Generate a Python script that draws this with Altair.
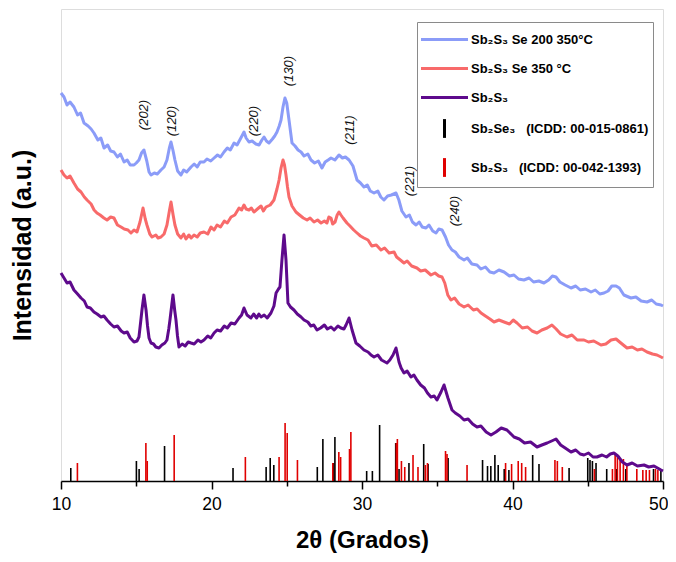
import altair as alt
import pandas as pd

FONT = "Liberation Sans"

# ---- XRD patterns (2theta in degrees, intensity in a.u.) ----
blue_x = [10.00, 10.20, 10.40, 10.60, 10.86, 11.10, 11.30, 11.53, 11.80, 12.00, 12.19, 12.45, 12.65, 12.86,
          13.10, 13.30, 13.52, 13.75, 13.95, 14.19, 14.40, 14.60, 14.85, 15.00, 15.18, 15.35, 15.51, 15.70,
          15.85, 15.98, 16.20, 16.40, 16.64, 16.85, 17.04, 17.20, 17.31, 17.45, 17.57, 17.75, 17.97, 18.15,
          18.35, 18.64, 18.85, 19.05, 19.25, 19.50, 19.70, 19.95, 20.17, 20.40, 20.60, 20.83, 21.05, 21.25,
          21.50, 21.70, 21.95, 22.16, 22.30, 22.49, 22.70, 22.95, 23.16, 23.35, 23.49, 23.65, 23.82, 24.05,
          24.20, 24.35, 24.50, 24.62, 24.75, 24.88, 25.00, 25.15, 25.35, 25.55, 25.75, 25.95, 26.15, 26.40,
          26.61, 26.85, 27.10, 27.34, 27.55, 27.75, 27.94, 28.20, 28.47, 28.70, 28.90, 29.14, 29.40, 29.67,
          29.90, 30.13, 30.35, 30.55, 30.80, 31.05, 31.25, 31.46, 31.70, 31.95, 32.26, 32.45, 32.65, 32.92,
          33.15, 33.35, 33.59, 33.80, 34.00, 34.25, 34.45, 34.70, 34.92, 35.10, 35.32, 35.55, 35.75, 35.98,
          36.20, 36.45, 36.78, 37.00, 37.30, 37.64, 37.90, 38.20, 38.50, 38.77, 39.10, 39.44, 39.80, 40.10,
          40.40, 40.76, 41.10, 41.40, 41.75, 42.09, 42.40, 42.65, 42.89, 43.15, 43.50, 43.89, 44.20, 44.50,
          44.85, 45.22, 45.50, 45.80, 46.08, 46.35, 46.60, 46.88, 47.10, 47.40, 47.87, 48.20, 48.55, 48.94,
          49.25, 49.55, 49.87, 50.00]
blue_y = [388, 384, 376, 379, 374, 366, 368, 358, 355, 352, 348, 341, 343, 333,
          336, 330, 329, 324, 327, 319, 321, 316, 316, 318, 321, 328, 331, 320,
          309, 306, 308, 307, 311, 314, 321, 333, 339, 330, 321, 310, 306, 311,
          309, 314, 317, 314, 319, 319, 322, 320, 323, 326, 324, 329, 333, 331,
          338, 336, 343, 349, 343, 339, 340, 337, 336, 341, 344, 340, 338, 342,
          345, 349, 355, 361, 374, 383, 378, 361, 338, 335, 331, 329, 325, 327,
          321, 318, 320, 313, 319, 321, 323, 321, 326, 323, 324, 321, 315, 301,
          298, 294, 296, 290, 288, 290, 284, 281, 285, 286, 288, 281, 270, 264,
          266, 259, 256, 259, 254, 253, 256, 250, 248, 252, 251, 244, 236, 231,
          229, 224, 221, 223, 217, 216, 212, 214, 209, 208, 211, 209, 205, 206,
          202, 201, 203, 199, 200, 198, 201, 205, 204, 199, 196, 193, 195, 191,
          192, 189, 191, 187, 188, 190, 195, 195, 193, 186, 183, 184, 180, 179,
          181, 177, 176, 175]

red_x = [10.00, 10.20, 10.40, 10.60, 10.86, 11.10, 11.33, 11.55, 11.73, 12.00, 12.20, 12.39, 12.60, 12.85,
         13.06, 13.30, 13.52, 13.75, 13.99, 14.20, 14.45, 14.65, 14.85, 15.05, 15.25, 15.45, 15.60, 15.71,
         15.90, 16.05, 16.30, 16.45, 16.64, 16.85, 17.04, 17.20, 17.31, 17.45, 17.57, 17.75, 17.97, 18.15,
         18.30, 18.50, 18.65, 18.84, 19.05, 19.25, 19.50, 19.75, 19.97, 20.17, 20.37, 20.60, 20.85, 21.05,
         21.30, 21.55, 21.83, 22.00, 22.16, 22.30, 22.49, 22.65, 22.82, 23.05, 23.29, 23.45, 23.62, 23.90,
         24.15, 24.35, 24.49, 24.62, 24.75, 24.85, 24.95, 25.05, 25.15, 25.35, 25.61, 25.85, 26.10, 26.35,
         26.55, 26.81, 27.05, 27.28, 27.50, 27.67, 27.80, 27.94, 28.05, 28.21, 28.35, 28.47, 28.60, 28.74,
         29.00, 29.20, 29.45, 29.67, 29.90, 30.13, 30.40, 30.65, 30.95, 31.26, 31.50, 31.80, 32.13, 32.30,
         32.55, 32.79, 33.00, 33.30, 33.65, 33.90, 34.20, 34.58, 34.85, 35.10, 35.32, 35.50, 35.70, 35.91,
         36.15, 36.45, 36.78, 37.05, 37.40, 37.65, 37.91, 38.20, 38.50, 38.77, 39.10, 39.44, 39.80, 40.05,
         40.30, 40.65, 41.00, 41.30, 41.63, 41.95, 42.30, 42.62, 42.90, 43.20, 43.62, 43.95, 44.30, 44.75,
         45.05, 45.40, 45.88, 46.20, 46.55, 46.88, 47.20, 47.61, 47.95, 48.30, 48.60, 48.94, 49.30, 49.60,
         49.87, 50.00]
red_y = [311, 306, 303, 305, 298, 292, 289, 284, 281, 277, 271, 268, 266, 263,
         261, 264, 263, 256, 254, 252, 251, 248, 251, 249, 259, 273, 262, 256,
         247, 244, 246, 243, 244, 247, 256, 270, 279, 266, 256, 247, 243, 247,
         242, 246, 243, 246, 244, 248, 249, 247, 254, 251, 256, 254, 260, 258,
         264, 266, 273, 271, 276, 272, 271, 273, 269, 272, 275, 270, 274, 276,
         281, 292, 301, 313, 321, 316, 306, 294, 284, 275, 269, 266, 263, 261,
         263, 259, 261, 258, 260, 258, 264, 263, 257, 259, 266, 269, 266, 263,
         258, 255, 251, 248, 245, 243, 241, 235, 236, 231, 233, 228, 229, 224,
         221, 218, 220, 215, 213, 210, 211, 206, 208, 205, 204, 198, 186, 181,
         183, 177, 174, 176, 171, 172, 168, 165, 162, 159, 161, 159, 157, 161,
         158, 153, 154, 150, 148, 151, 153, 156, 152, 147, 144, 146, 141, 141,
         139, 140, 136, 137, 141, 142, 138, 133, 134, 131, 132, 129, 127, 126,
         124, 123]

pur_x = [10.00, 10.20, 10.40, 10.60, 10.86, 11.10, 11.33, 11.55, 11.73, 11.95, 12.19, 12.40, 12.66, 12.85,
         13.06, 13.30, 13.52, 13.75, 14.00, 14.19, 14.40, 14.60, 14.85, 15.05, 15.18, 15.30, 15.38, 15.51,
         15.65, 15.75, 15.85, 15.98, 16.15, 16.30, 16.51, 16.70, 16.90, 17.04, 17.16, 17.24, 17.44, 17.56,
         17.64, 17.74, 17.84, 18.05, 18.25, 18.45, 18.64, 18.85, 19.10, 19.30, 19.50, 19.75, 19.95, 20.17,
         20.37, 20.60, 20.85, 21.05, 21.30, 21.55, 21.83, 22.00, 22.16, 22.36, 22.62, 22.80, 23.00, 23.15,
         23.29, 23.50, 23.70, 23.95, 24.15, 24.29, 24.45, 24.55, 24.68, 24.82, 24.95, 25.08, 25.25, 25.48,
         25.70, 25.95, 26.15, 26.40, 26.60, 26.80, 27.01, 27.25, 27.50, 27.70, 27.94, 28.15, 28.40, 28.60,
         28.80, 28.94, 29.14, 29.34, 29.60, 29.85, 30.13, 30.40, 30.60, 30.80, 31.05, 31.30, 31.66, 31.85,
         32.06, 32.26, 32.46, 32.60, 32.79, 33.00, 33.25, 33.45, 33.65, 33.90, 34.15, 34.35, 34.58, 34.80,
         34.98, 35.25, 35.45, 35.71, 35.98, 36.20, 36.50, 36.78, 37.05, 37.35, 37.64, 37.90, 38.25, 38.57,
         38.90, 39.25, 39.63, 39.90, 40.10, 40.45, 40.80, 41.20, 41.63, 41.95, 42.30, 42.60, 42.89, 43.20,
         43.50, 43.89, 44.20, 44.50, 44.75, 45.05, 45.35, 45.61, 45.95, 46.25, 46.50, 46.74, 47.00, 47.30,
         47.61, 47.95, 48.30, 48.74, 49.05, 49.40, 49.87, 50.00]
pur_y = [208, 203, 198, 199, 191, 187, 183, 180, 174, 173, 169, 167, 164, 165,
         161, 157, 154, 155, 150, 148, 149, 143, 139, 140, 144, 160, 171, 186,
         171, 155, 143, 138, 137, 134, 133, 136, 138, 141, 152, 161, 186, 170,
         161, 145, 134, 137, 135, 139, 138, 137, 141, 139, 141, 145, 143, 148,
         151, 150, 155, 153, 158, 157, 163, 166, 173, 166, 163, 167, 163, 167,
         164, 166, 163, 168, 175, 188, 192, 194, 221, 246, 221, 178, 174, 171,
         167, 164, 161, 159, 155, 156, 151, 153, 156, 152, 154, 151, 155, 153,
         152, 156, 163, 151, 138, 135, 131, 129, 126, 124, 126, 121, 118, 121,
         126, 133, 119, 113, 108, 110, 104, 106, 101, 96, 93, 88, 84, 85,
         81, 89, 96, 83, 71, 68, 65, 61, 62, 57, 54, 55, 49, 46,
         49, 53, 51, 47, 44, 42, 38, 39, 34, 36, 38, 40, 42, 36,
         33, 29, 31, 27, 26, 28, 24, 24, 26, 24, 27, 28, 25, 19,
         16, 18, 15, 16, 14, 15, 11, 10]

# ---- reference patterns (stick positions and heights) ----
se_pos = [10.65, 15.01, 15.19, 16.88, 21.43, 23.63, 23.90, 24.14, 27.03, 27.40, 28.11, 28.20, 30.31, 30.69,
          31.17, 32.24, 32.46, 33.12, 34.10, 34.39, 35.72, 38.01, 38.34, 38.56, 38.83, 39.05, 39.45, 39.76,
          41.34, 41.76, 43.76, 45.00, 45.15, 45.31, 45.55, 46.26, 46.93, 47.53, 49.37, 49.86]
se_h = [13, 20, 12, 35, 13, 14, 23, 16, 14, 42, 18, 44, 10, 10,
        56, 38, 12, 18, 37, 17, 23, 21, 15, 15, 26, 16, 12, 11,
        26, 17, 13, 23, 21, 20, 18, 12, 12, 12, 12, 10]

s_pos = [11.09, 15.64, 15.73, 17.52, 22.25, 24.49, 24.89, 25.03, 25.71, 28.06, 28.46, 28.58, 29.17, 29.26,
         32.28, 32.35, 32.62, 32.84, 33.39, 33.72, 34.21, 34.35, 35.55, 35.65, 36.98, 39.54, 39.94, 40.38,
         40.61, 40.87, 42.82, 42.98, 43.31, 45.44, 46.64, 46.82, 46.97, 47.15, 47.37, 47.60, 48.26, 48.66,
         48.88, 49.10, 49.50, 49.66]
s_h = [18, 38, 20, 46, 24, 24, 58, 48, 21, 18, 29, 24, 32, 49,
       38, 42, 20, 14, 26, 14, 16, 18, 30, 27, 16, 18, 17, 20,
       18, 14, 21, 20, 14, 12, 12, 28, 26, 22, 22, 17, 12, 11,
       11, 11, 12, 11]

# ---- peak (hkl) labels ----
hkl_text = ["(202)", "(120)", "(220)", "(130)", "(211)", "(221)", "(240)"]
hkl_x = [15.53, 17.39, 22.85, 25.18, 29.17, 33.17, 36.16]
hkl_y = [366, 360, 360, 410, 351, 300, 270]

series = ["Sb\u2082S\u2083 Se 200 350\u00b0C",
          "Sb\u2082S\u2083 Se 350 \u00b0C",
          "Sb\u2082S\u2083",
          "Sb\u2082Se\u2083\u00a0\u00a0\u00a0(ICDD: 00-015-0861)",
          "Sb\u2082S\u2083\u00a0\u00a0\u00a0(ICDD: 00-042-1393)"]
colors = ["#8b9cf8", "#f86a6a", "#5e0a8c", "#000000", "#e00000"]
shapes = ["M-2,0H2", "M-2,0H2", "M-2,0H2", "M0,-0.8V0.8", "M0,-0.8V0.8"]
widths = [3, 3, 3, 1.6, 1.6]

x_scale = alt.Scale(domain=[10, 50], nice=False)
y_scale = alt.Scale(domain=[0, 472], nice=False)

is_last = "datum.value === 50"
x_enc = alt.X("theta:Q", scale=x_scale,
              axis=alt.Axis(values=[10, 15, 20, 25, 30, 35, 40, 45, 50],
                            labelExpr="datum.value % 10 === 0 ? datum.label : ''",
                            tickSize={"condition": {"test": "datum.value % 10 === 0", "value": 8}, "value": 5},
                            labelAlign={"condition": {"test": is_last, "value": "right"}, "value": "center"},
                            labelOffset={"condition": {"test": is_last, "value": 5}, "value": 0},
                            title="2\u03b8 (Grados)", titleFontSize=24, titleFontWeight="bold",
                            titleFont=FONT, labelFont=FONT, labelFontSize=17.5,
                            labelColor="black", titleColor="black", domainColor="black",
                            tickColor="black", domainWidth=1.5, tickWidth=1.5,
                            labelPadding=6, titlePadding=16, grid=False, labelFlush=False))
y_enc = alt.Y("inten:Q", scale=y_scale,
              axis=alt.Axis(title="Intensidad (a.u.)", labels=False, ticks=False, domain=False,
                            grid=False, titleFontSize=25, titleFontWeight="bold", titleFont=FONT,
                            titleColor="black", titlePadding=26))


def line_layer(xs, ys, col):
    df = pd.DataFrame({"theta": xs, "inten": ys})
    return alt.Chart(df).mark_line(strokeWidth=3, strokeJoin="round", color=col).encode(x=x_enc, y=y_enc)


def stick_layer(xs, hs, col):
    df = pd.DataFrame({"theta": xs, "inten": hs})
    return alt.Chart(df).mark_rule(strokeWidth=1.6, color=col).encode(x=x_enc, y=y_enc, y2=alt.datum(0))


hkl_df = pd.DataFrame({"theta": hkl_x, "inten": hkl_y, "lab": hkl_text})
hkl = alt.Chart(hkl_df).mark_text(angle=270, fontStyle="italic", fontSize=13, font=FONT,
                                  color="#111").encode(x=x_enc, y=y_enc, text="lab:N")

leg = alt.Legend(title=None, orient="none", legendX=356, legendY=13, direction="vertical",
                 labelFont=FONT, labelFontSize=13, labelFontWeight="bold", labelColor="black",
                 strokeColor="#8a8a8a", fillColor="white", padding=4, rowPadding=8,
                 symbolSize=552, symbolOffset=10, labelOffset=13, symbolOpacity=1, labelLimit=300)

legend_df = pd.DataFrame({"theta": [], "inten": [], "serie": []})
legend_layer = alt.Chart(legend_df).mark_point(size=552, filled=False).encode(
    x=x_enc, y=y_enc,
    color=alt.Color("serie:N", scale=alt.Scale(domain=series, range=colors), legend=leg),
    shape=alt.Shape("serie:N", scale=alt.Scale(domain=series, range=shapes), legend=leg),
    strokeWidth=alt.StrokeWidth("serie:N", scale=alt.Scale(domain=series, range=widths), legend=leg))

chart = alt.layer(
    stick_layer(se_pos, se_h, colors[3]),
    stick_layer(s_pos, s_h, colors[4]),
    line_layer(blue_x, blue_y, colors[0]),
    line_layer(red_x, red_y, colors[1]),
    line_layer(pur_x, pur_y, colors[2]),
    hkl,
    legend_layer,
).properties(
    width=602, height=472,
    autosize=alt.AutoSizeParams(type="none"),
    padding={"left": 53, "top": 1, "right": 5, "bottom": 73},
).configure_view(stroke="#1a1a1a", strokeWidth=1.6).configure(background="white")

chart.save("out.html", embed_options={"renderer": "svg", "actions": False})
